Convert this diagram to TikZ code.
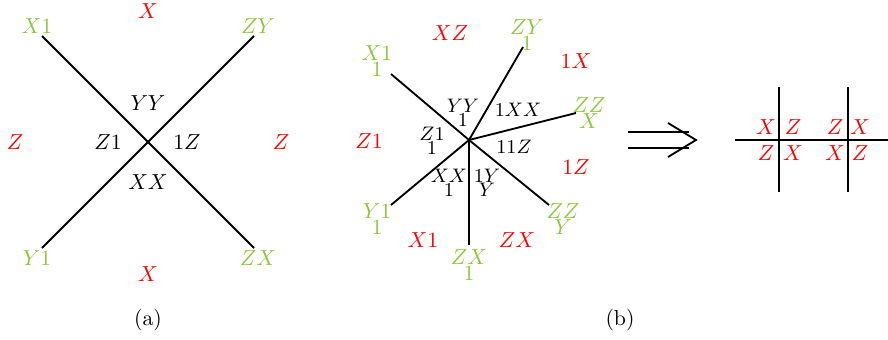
\documentclass[tikz,border=0pt]{standalone}
\usepackage{xcolor}
\usepackage{tikz}
\definecolor{legreen}{RGB}{140,198,63}

\begin{document}
\begin{tikzpicture}[
  x=0.46pt, y=-0.46pt,
  leg/.style={line width=0.85pt},
  ext/.style={text=legreen, inner sep=0pt, align=center,
              font=\fontsize{10}{7.4}\selectfont},
  face/.style={text=red, inner sep=0pt},
  pair/.style={inner sep=0pt, align=center},
  small pair/.style={inner sep=0pt, align=center,
                     font=\fontsize{9}{6.4}\selectfont}
]
  \useasboundingbox (0,0) rectangle (888,339);

  % (a) four-leg vertex
  \coordinate (ac)  at (148,142);
  \coordinate (aul) at (42,36);
  \coordinate (aur) at (254,36);
  \coordinate (all) at (42,248);
  \coordinate (alr) at (254,248);
  \draw[leg] (aul) -- (alr);
  \draw[leg] (all) -- (aur);
  \node[ext]  (aX1) at (37,26)   {$X1$};
  \node[ext]  (aZY) at (258,26)  {$ZY$};
  \node[ext]  (aY1) at (37,258)  {$Y1$};
  \node[ext]  (aZX) at (258,258) {$ZX$};
  \node[face] (aXt) at (148,11)  {$X$};
  \node[face] (aXb) at (148,274) {$X$};
  \node[face] (aZl) at (15,142)  {$Z$};
  \node[face] (aZr) at (281,142) {$Z$};
  \node[pair] (aYY) at (148,103) {$YY$};
  \node[pair] (aXX) at (148,182) {$XX$};
  \node[pair] (aZ1) at (108,142) {$Z1$};
  \node[pair] (a1Z) at (187,142) {$1Z$};
  \node (capa) at (148,320) {(a)};

  % (b) six-leg vertex
  \coordinate (bc) at (469,140);
  \coordinate (b1) at (391,74);
  \coordinate (b2) at (523,47);
  \coordinate (b3) at (576,113);
  \coordinate (b4) at (549,205);
  \coordinate (b5) at (469,245);
  \coordinate (b6) at (391,205);
  \foreach \e in {b1,b2,b3,b4,b5,b6}
    \draw[leg] (bc) -- (\e);
  \node[ext] (bX1)  at (377,61)  {$X1$\\$1$};
  \node[ext] (bZY)  at (527,35)  {$ZY$\\$1$};
  \node[ext] (bZZx) at (589,113) {$ZZ$\\$X$};
  \node[ext] (bZZy) at (563,219) {$ZZ$\\$Y$};
  \node[ext] (bZX)  at (469,265) {$ZX$\\$1$};
  \node[ext] (bY1)  at (377,219) {$Y1$\\$1$};
  \node[face] (bXZ)  at (450,33)  {$XZ$};
  \node[face] (b1X)  at (576,61)  {$1X$};
  \node[face] (bZ1)  at (369,141) {$Z1$};
  \node[face] (b1Z)  at (576,167) {$1Z$};
  \node[face] (bX1r) at (423,240) {$X1$};
  \node[face] (bZXr) at (517,240) {$ZX$};
  \node[small pair] (bYY)  at (463,113) {$YY$\\$1$};
  \node[small pair] (b1XX) at (518,110) {$1XX$};
  \node[small pair] (bZ1k) at (432,141) {$Z1$\\$1$};
  \node[small pair] (b11Z) at (514,147) {$11Z$};
  \node[small pair] (bXX)  at (449,183) {$XX$\\$1$};
  \node[small pair] (b1Y)  at (487,183) {$1Y$\\$Y$};
  \node (capb) at (620,320) {(b)};

  % implies arrow
  \coordinate (iu) at (628,132);
  \coordinate (id) at (628,148);
  \coordinate (iue) at (689,132);
  \coordinate (ide) at (689,148);
  \coordinate (itip) at (696,140);
  \coordinate (ihu) at (668,123);
  \coordinate (ihd) at (668,157);
  \draw[leg] (iu) -- (iue);
  \draw[leg] (id) -- (ide);
  \draw[leg] (ihu) -- (itip) -- (ihd);

  % (c) two crossings
  \coordinate (hl) at (735,140);
  \coordinate (hr) at (888,140);
  \coordinate (v1t) at (779,87);
  \coordinate (v1b) at (779,192);
  \coordinate (v2t) at (848,87);
  \coordinate (v2b) at (848,192);
  \draw[leg] (hl) -- (hr);
  \draw[leg] (v1t) -- (v1b);
  \draw[leg] (v2t) -- (v2b);
  \node[face] (c1) at (766,127) {$X$};
  \node[face] (c2) at (793,127) {$Z$};
  \node[face] (c3) at (835,127) {$Z$};
  \node[face] (c4) at (860,127) {$X$};
  \node[face] (c5) at (766,153) {$Z$};
  \node[face] (c6) at (793,153) {$X$};
  \node[face] (c7) at (835,153) {$X$};
  \node[face] (c8) at (860,153) {$Z$};
\end{tikzpicture}
\end{document}
